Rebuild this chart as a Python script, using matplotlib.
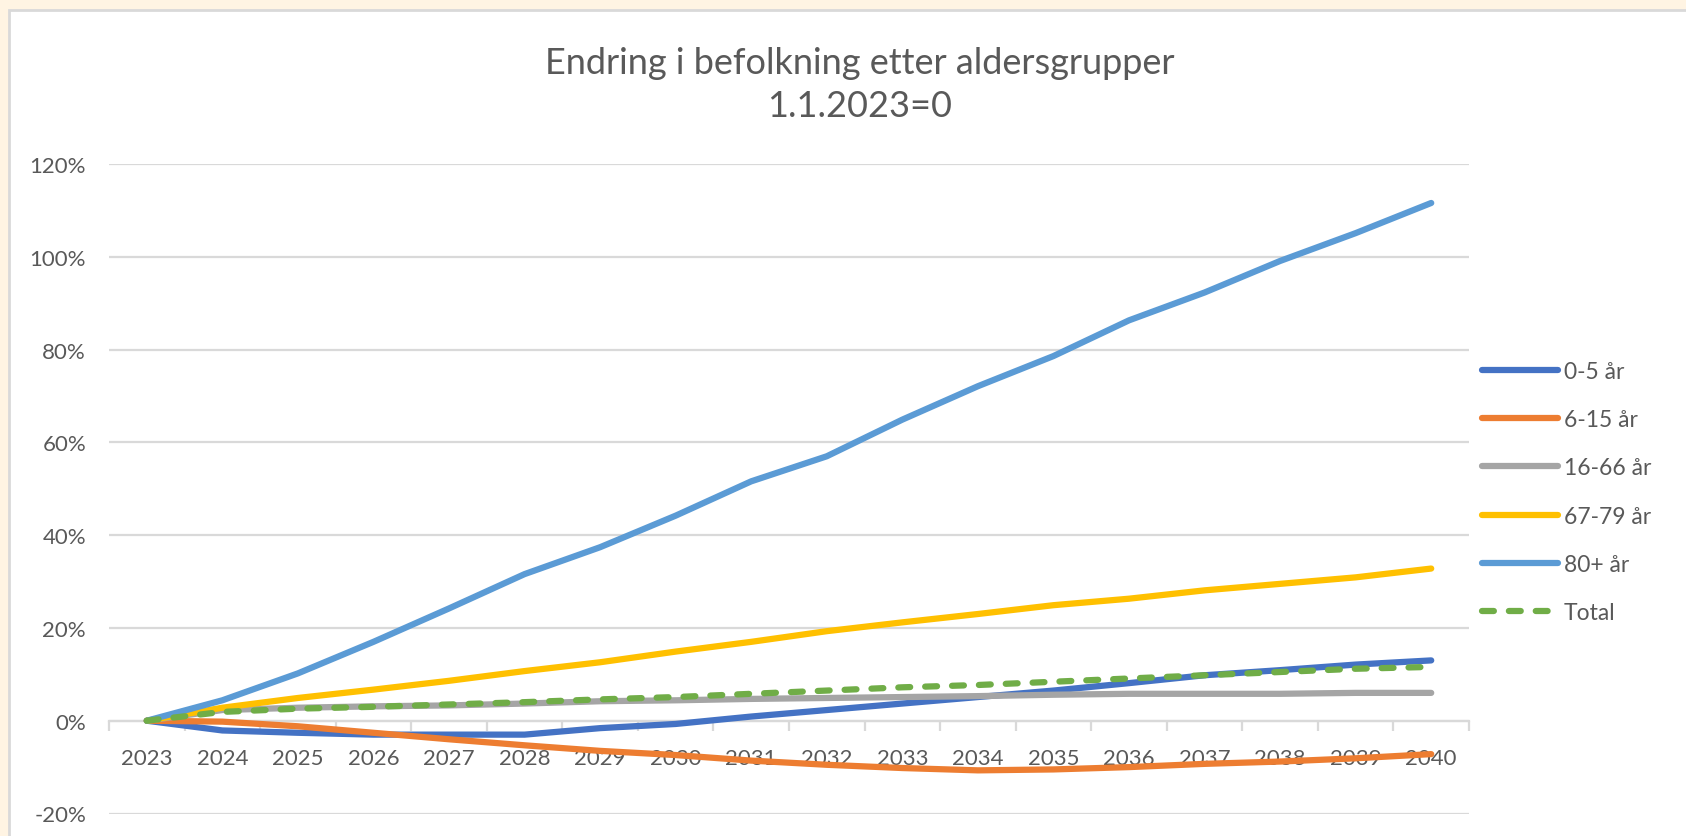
import matplotlib
matplotlib.use("Agg")
import matplotlib.pyplot as plt
from matplotlib.patches import Rectangle
from matplotlib.ticker import FuncFormatter, FixedLocator
from matplotlib.lines import Line2D

years = [str(y) for y in range(2023, 2041)]

s_0_5 = [0, -2.1, -2.6, -3.0, -3.0, -3.0, -1.6, -0.7, 0.9, 2.3, 3.7, 5.1, 6.5, 8.1, 9.8, 10.9, 12.1, 13.0]
s_6_15 = [0, -0.2, -1.2, -2.6, -4.0, -5.3, -6.5, -7.4, -8.6, -9.5, -10.2, -10.7, -10.5, -10.0, -9.3, -8.8, -8.1, -7.2]
s_16_66 = [0, 2.3, 2.8, 3.1, 3.3, 3.7, 4.2, 4.4, 4.7, 4.9, 5.1, 5.3, 5.6, 5.8, 5.8, 5.8, 6.0, 6.0]
s_67_79 = [0, 2.8, 4.9, 6.7, 8.6, 10.7, 12.6, 14.9, 17.0, 19.3, 21.2, 23.0, 24.9, 26.3, 28.1, 29.5, 30.9, 32.8]
s_80 = [0, 4.4, 10.2, 17.0, 24.2, 31.6, 37.4, 44.2, 51.6, 57.0, 64.9, 72.1, 78.6, 86.3, 92.3, 99.1, 105.1, 111.6]
s_total = [0, 1.9, 2.6, 3.0, 3.5, 4.0, 4.6, 5.1, 5.8, 6.5, 7.2, 7.7, 8.4, 9.1, 9.8, 10.5, 11.2, 11.6]

series_names = ["0-5 år", "6-15 år", "16-66 år", "67-79 år", "80+ år", "Total"]
yticks = [-20, 0, 20, 40, 60, 80, 100, 120]

title = "Endring i befolkning etter aldersgrupper\n1.1.2023=0"

FONT = ["Lato", "DejaVu Sans"]
plt.rcParams["font.family"] = FONT
TXT = "#595959"
GRID = "#D9D9D9"

W, H = 1686, 837
fig = plt.figure(figsize=(W / 100, H / 100), dpi=100)
fig.patch.set_facecolor("#FFF4E3")

# white chart box
box = Rectangle((9 / W, -0.1), 1.2, (H - 11) / H + 0.1, transform=fig.transFigure,
                facecolor="white", edgecolor=GRID, linewidth=2, zorder=-10)
fig.add_artist(box)

left, right, top, bottom = 109, 1469, 165, 814.5
ax = fig.add_axes([left / W, (H - bottom) / H, (right - left) / W, (bottom - top) / H])
ax.set_facecolor("none")

x = list(range(len(years)))
styles = [
    (s_0_5, "#4472C4"),
    (s_6_15, "#ED7D31"),
    (s_16_66, "#A5A5A5"),
    (s_67_79, "#FFC000"),
    (s_80, "#5B9BD5"),
]
LW = 4.5
handles = []
for (vals, c), name in zip(styles, series_names[:5]):
    ax.plot(x, vals, color=c, lw=LW, solid_capstyle="round", solid_joinstyle="round", zorder=3)
    handles.append(Line2D([], [], color=c, lw=LW, solid_capstyle="round"))
DASH = (0, (1.9, 2.4))
ax.plot(x, s_total, color="#70AD47", lw=LW, linestyle=DASH, dash_capstyle="round", zorder=4)
handles.append(Line2D([], [], color="#70AD47", lw=LW, linestyle=DASH, dash_capstyle="round"))

ax.set_xlim(-0.5, len(years) - 0.5)
ax.set_ylim(-20, 120)

ax.set_yticks(yticks)
ax.yaxis.set_major_formatter(FuncFormatter(lambda v, p: f"{int(v)}%"))
ax.grid(axis="y", color=GRID, linewidth=1.6, zorder=1)
ax.set_axisbelow(True)

for s in ["top", "right", "left"]:
    ax.spines[s].set_visible(False)
ax.spines["bottom"].set_position(("data", 0))
ax.spines["bottom"].set_color(GRID)
ax.spines["bottom"].set_linewidth(1.6)

ax.set_xticks(x)
ax.set_xticklabels(years)
ax.xaxis.set_minor_locator(FixedLocator([i - 0.5 for i in range(len(years) + 1)]))
ax.tick_params(axis="x", which="major", length=0, pad=20, labelsize=16, labelcolor=TXT)
ax.tick_params(axis="x", which="minor", length=7, width=1.6, color=GRID, direction="out")
ax.tick_params(axis="y", length=0, pad=16.5, labelsize=16, labelcolor=TXT)

fig.text(860 / W, 1 - 85 / H, title, ha="center", va="center",
         fontsize=26, color=TXT, linespacing=1.36)

leg = fig.legend(handles, series_names, loc="center left",
                 bbox_to_anchor=(1473 / W, 1 - 493 / H), frameon=False,
                 fontsize=16.5, labelcolor=TXT, handlelength=3.3, handletextpad=0.25,
                 labelspacing=1.18, borderaxespad=0)

fig.savefig("out.png", dpi=100, facecolor=fig.get_facecolor())
